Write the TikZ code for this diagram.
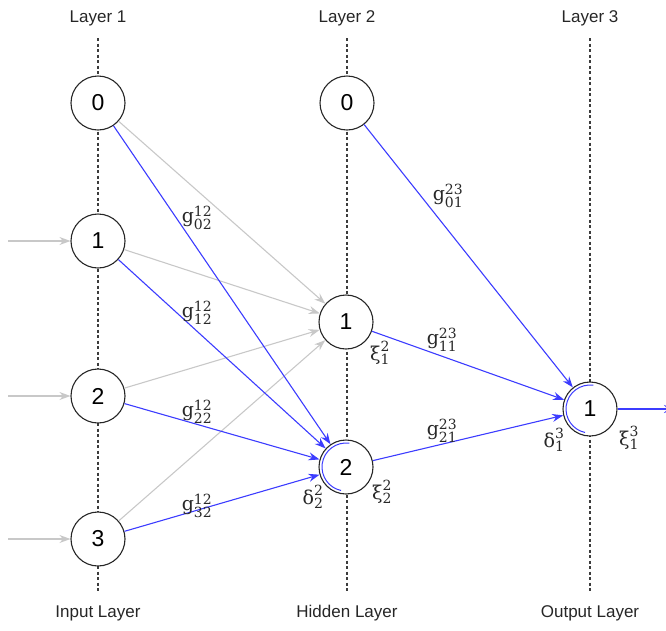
\documentclass[tikz,border=0pt]{standalone}
\usepackage{amsmath}
\usepackage[no-math]{fontspec}
\setmainfont{Liberation Sans}
\newfontfamily\wfont{DejaVu Serif}
\usetikzlibrary{arrows.meta}
\DeclareMathSizes{19}{19}{14}{11}
\newcommand\wsym[3]{$\text{\wfont #1}^{\text{\wfont #2}}_{\text{\wfont #3}}$}
\definecolor{netblue}{RGB}{60,60,255}
\definecolor{netgray}{RGB}{200,200,200}
\definecolor{guide}{RGB}{60,60,60}
\definecolor{labelink}{RGB}{40,40,40}
\tikzset{
  neuron/.style={circle, draw=black!85, line width=1.1pt, fill=white, minimum size=54pt, inner sep=0pt, font=\fontsize{23}{25}\selectfont},
  layertitle/.style={font=\fontsize{17}{19}\selectfont, text=black!85},
  guideline/.style={draw=guide, line width=1.1pt, dash pattern=on 3pt off 2.5pt},
  inactive/.style={draw=netgray, line width=1.1pt, -{Stealth[length=11pt,width=8pt]}},
  active/.style={draw=netblue, line width=1.1pt, -{Stealth[length=11pt,width=8pt]}},
  weight/.style={font=\fontsize{19}{21}\selectfont, text=labelink, inner sep=1pt},
  deltaarc/.style={draw=netblue, line width=1pt}
}
\begin{document}
\begin{tikzpicture}[x=1pt,y=-1pt]
\useasboundingbox (0,0) rectangle (666,630);

% layer titles
\node[layertitle] (t1) at (98,18) {Layer 1};
\node[layertitle] (t2) at (347,18) {Layer 2};
\node[layertitle] (t3) at (590,18) {Layer 3};
\node[layertitle] (b1) at (98,613) {Input Layer};
\node[layertitle] (b2) at (347,613) {Hidden Layer};
\node[layertitle] (b3) at (590,613) {Output Layer};

% dotted guides behind the neurons
\coordinate (g1t) at (98,38);  \coordinate (g1b) at (98,592);
\coordinate (g2t) at (347,38); \coordinate (g2b) at (347,592);
\coordinate (g3t) at (590,38); \coordinate (g3b) at (590,592);
\draw[guideline] (g1t) -- (g1b);
\draw[guideline] (g2t) -- (g2b);
\draw[guideline] (g3t) -- (g3b);

% neurons
\node[neuron] (a0) at (98,103) {0};
\node[neuron] (a1) at (98,241) {1};
\node[neuron] (a2) at (98,396) {2};
\node[neuron] (a3) at (98,539) {3};
\node[neuron] (h0) at (347,103) {0};
\node[neuron] (h1) at (346,322) {1};
\node[neuron] (h2) at (346,467) {2};
\node[neuron] (o1) at (590,409) {1};

% inner highlight arcs
\draw[deltaarc] (h2.center) ++(82:24pt) arc[start angle=82, end angle=258, radius=24pt];
\draw[deltaarc] (o1.center) ++(82:24pt) arc[start angle=82, end angle=258, radius=24pt];

% inputs and output
\coordinate (i1) at (8,241);
\coordinate (i2) at (8,396);
\coordinate (i3) at (8,539);
\coordinate (out) at (675,409);
\draw[inactive] (i1) -- (a1);
\draw[inactive] (i2) -- (a2);
\draw[inactive] (i3) -- (a3);
\draw[active] (o1) -- (out);

% connections into hidden neuron 1
\draw[inactive] (a0) -- (h1);
\draw[inactive] (a1) -- (h1);
\draw[inactive] (a2) -- (h1);
\draw[inactive] (a3) -- (h1);

% connections into hidden neuron 2
\draw[active] (a0) -- (h2);
\draw[active] (a1) -- (h2);
\draw[active] (a2) -- (h2);
\draw[active] (a3) -- (h2);

% connections into the output neuron
\draw[active] (h0) -- (o1);
\draw[active] (h1) -- (o1);
\draw[active] (h2) -- (o1);

% weights
\node[weight] (w02) at (197,218) {\wsym{g}{12}{02}};
\node[weight] (w12) at (197,313) {\wsym{g}{12}{12}};
\node[weight] (w22) at (197,412) {\wsym{g}{12}{22}};
\node[weight] (w32) at (197,506) {\wsym{g}{12}{32}};
\node[weight] (v01) at (448,196) {\wsym{g}{23}{01}};
\node[weight] (v11) at (442,340) {\wsym{g}{23}{11}};
\node[weight] (v21) at (442,431) {\wsym{g}{23}{21}};

% neuron outputs and errors
\node[weight] (x21) at (380,353) {\wsym{ξ}{2}{1}};
\node[weight] (x22) at (382,492) {\wsym{ξ}{2}{2}};
\node[weight] (d22) at (313,497) {\wsym{δ}{2}{2}};
\node[weight] (d31) at (554,440) {\wsym{δ}{3}{1}};
\node[weight] (x31) at (629,438) {\wsym{ξ}{3}{1}};
\end{tikzpicture}
\end{document}
